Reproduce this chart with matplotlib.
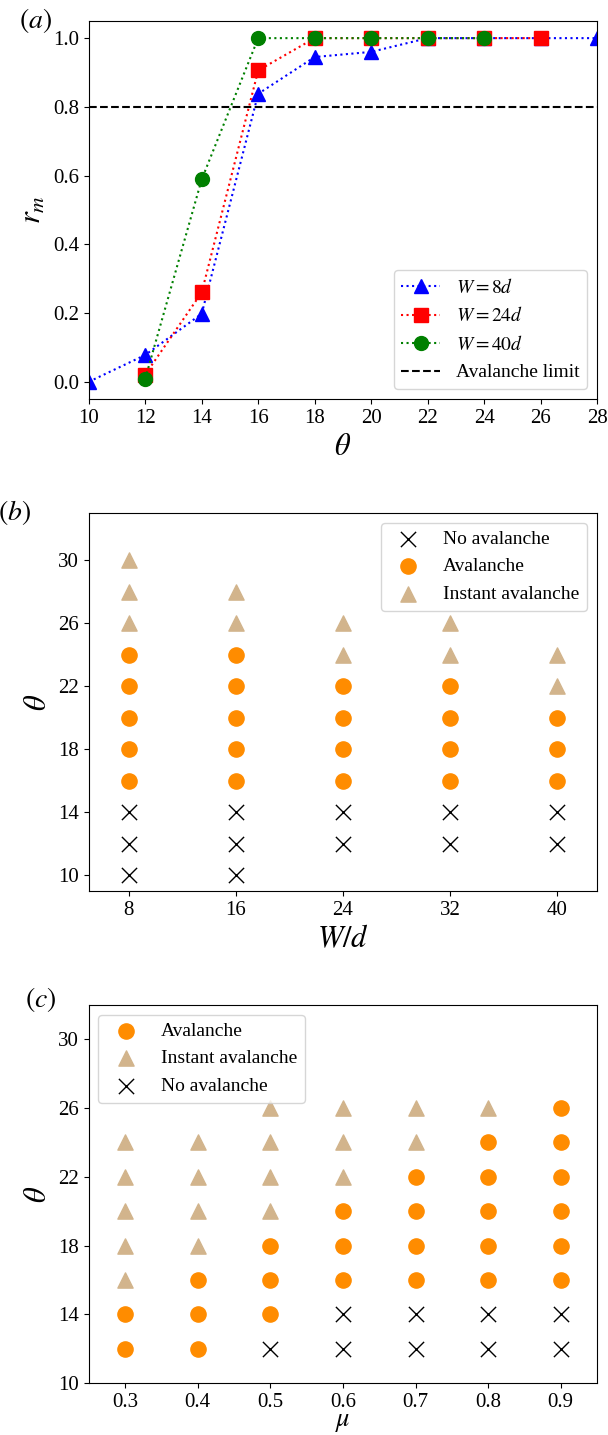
import numpy as np
import matplotlib.pyplot as plt

plt.rcParams['font.family'] = ['Liberation Serif', 'DejaVu Serif']
plt.rcParams['mathtext.fontset'] = 'stix'

# (a) r_m vs theta
theta_8 = [10, 12, 14, 16, 18, 20, 22, 24, 26, 28]
rm_8 = [0.0, 0.078, 0.198, 0.838, 0.945, 0.96, 1.0, 1.0, 1.0, 1.0]
theta_24 = [12, 14, 16, 18, 20, 22, 24, 26]
rm_24 = [0.021, 0.26, 0.906, 1.0, 1.0, 1.0, 1.0, 1.0]
theta_40 = [12, 14, 16, 18, 20, 22, 24]
rm_40 = [0.009, 0.589, 1.0, 1.0, 1.0, 1.0, 1.0]
limit = 0.8

# (b) phase diagram W/d vs theta
b_no_x = [8, 8, 8, 16, 16, 16, 24, 24, 32, 32, 40, 40]
b_no_y = [10, 12, 14, 10, 12, 14, 12, 14, 12, 14, 12, 14]
b_av_x = [8]*5 + [16]*5 + [24]*4 + [32]*4 + [40]*3
b_av_y = [16, 18, 20, 22, 24]*2 + [16, 18, 20, 22]*2 + [16, 18, 20]
b_in_x = [8, 8, 8, 16, 16, 24, 24, 32, 32, 40, 40]
b_in_y = [26, 28, 30, 26, 28, 24, 26, 24, 26, 22, 24]

# (c) phase diagram mu vs theta
c_no_x = [0.5, 0.6, 0.6, 0.7, 0.7, 0.8, 0.8, 0.9, 0.9]
c_no_y = [12, 12, 14, 12, 14, 12, 14, 12, 14]
c_av_x = [0.3]*2 + [0.4]*3 + [0.5]*3 + [0.6]*3 + [0.7]*4 + [0.8]*5 + [0.9]*6
c_av_y = ([12, 14] + [12, 14, 16] + [14, 16, 18] + [16, 18, 20]
          + [16, 18, 20, 22] + [16, 18, 20, 22, 24] + [16, 18, 20, 22, 24, 26])
c_in_x = [0.3]*5 + [0.4]*4 + [0.5]*4 + [0.6]*3 + [0.7]*2 + [0.8]
c_in_y = ([16, 18, 20, 22, 24] + [18, 20, 22, 24] + [20, 22, 24, 26]
          + [22, 24, 26] + [24, 26] + [26])

fig, ax = plt.subplots(nrows=3, figsize=(6.08, 14.35), dpi=100)
plt.subplots_adjust(left=0.146, right=0.982, top=0.9854, bottom=0.0362, hspace=0.3016)

fs = 14  # legend
tfs = 15  # ticks

# ---- (a)
ax[0].plot(theta_8, rm_8, ':', color='blue', marker='^', ms=10, label=r'$W = 8d$')
ax[0].plot(theta_24, rm_24, ':', color='red', marker='s', ms=10, label=r'$W = 24d$')
ax[0].plot(theta_40, rm_40, ':', color='green', marker='o', ms=10, label=r'$W = 40d$')
ax[0].axhline(limit, color='black', ls='--', label='Avalanche limit')
ax[0].set_xlim(10, 28)
ax[0].set_ylim(-0.05, 1.05)
ax[0].set_xticks(np.arange(10, 29, 2))
ax[0].set_yticks(np.arange(0, 1.01, 0.2))
ax[0].set_xlabel(r'$\theta$', fontsize=22)
ax[0].set_ylabel(r'$r_m$', fontsize=22)
ax[0].legend(loc='lower right', fontsize=fs)

# ---- (b)
ax[1].scatter(b_no_x, b_no_y, marker='x', s=120, c='black', linewidths=1, label='No avalanche')
ax[1].scatter(b_av_x, b_av_y, marker='o', s=120, c='darkorange', label='Avalanche')
ax[1].scatter(b_in_x, b_in_y, marker='^', s=120, c='tan', label='Instant avalanche')
ax[1].set_xlim(5, 43)
ax[1].set_ylim(9, 33)
ax[1].set_xticks([8, 16, 24, 32, 40])
ax[1].set_yticks(np.arange(10, 31, 4))
ax[1].set_xlabel(r'$W/d$', fontsize=22)
ax[1].set_ylabel(r'$\theta$', fontsize=22)
ax[1].legend(loc='upper right', fontsize=fs)

# ---- (c)
ax[2].scatter(c_av_x, c_av_y, marker='o', s=120, c='darkorange', label='Avalanche')
ax[2].scatter(c_in_x, c_in_y, marker='^', s=120, c='tan', label='Instant avalanche')
ax[2].scatter(c_no_x, c_no_y, marker='x', s=120, c='black', linewidths=1, label='No avalanche')
ax[2].set_xlim(0.25, 0.95)
ax[2].set_ylim(10, 32)
ax[2].set_xticks(np.arange(0.3, 0.91, 0.1))
ax[2].set_yticks(np.arange(10, 31, 4))
ax[2].set_xlabel(r'$\mu$', fontsize=19, labelpad=0)
ax[2].set_ylabel(r'$\theta$', fontsize=22)
ax[2].legend(loc='upper left', fontsize=fs)

for a in ax:
    a.tick_params(labelsize=tfs)

fig.text(0.031, 0.9854, r'$(a)$', fontsize=20, ha='left', va='center')
fig.text(-0.004, 0.643, r'$(b)$', fontsize=20, ha='left', va='center')
fig.text(0.041, 0.3038, r'$(c)$', fontsize=20, ha='left', va='center')

plt.savefig('out.png')
